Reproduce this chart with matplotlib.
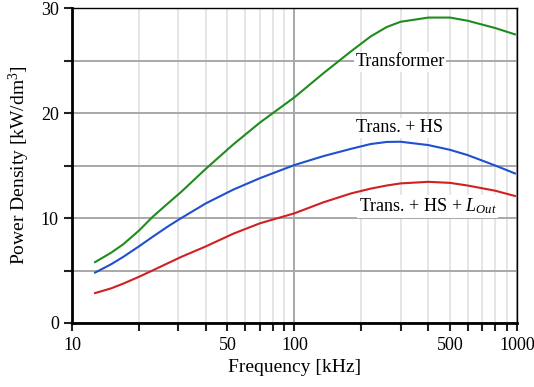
import matplotlib.pyplot as plt
from matplotlib.ticker import FixedLocator, FixedFormatter

plt.rcParams['font.family'] = ['Liberation Serif', 'DejaVu Serif']
plt.rcParams['mathtext.fontset'] = 'custom'
plt.rcParams['mathtext.rm'] = 'Liberation Serif'
plt.rcParams['mathtext.it'] = 'Liberation Serif:italic'

# switching frequency [kHz]
freq = [12.7, 15, 17, 20, 23, 27, 31, 40, 53, 70, 100, 135, 180, 220, 260, 300, 400, 500, 600, 800, 980]
# power density [kW/dm^3]
transformer = [5.8, 6.7, 7.5, 8.8, 10.1, 11.4, 12.5, 14.7, 17.0, 19.1, 21.5, 23.8, 25.9, 27.3, 28.2, 28.7, 29.1, 29.1, 28.8, 28.1, 27.5]
trans_hs = [4.8, 5.6, 6.3, 7.3, 8.2, 9.2, 10.0, 11.4, 12.7, 13.8, 15.05, 15.9, 16.6, 17.05, 17.25, 17.27, 16.95, 16.5, 16.0, 15.0, 14.25]
trans_hs_lout = [2.85, 3.3, 3.75, 4.4, 5.0, 5.7, 6.3, 7.3, 8.5, 9.5, 10.45, 11.5, 12.35, 12.8, 13.1, 13.3, 13.45, 13.35, 13.1, 12.6, 12.1]

xticks_major = [10, 100, 1000]
xticks_minor = [20, 30, 40, 50, 60, 70, 80, 90, 200, 300, 400, 500, 600, 700, 800, 900]

fig = plt.figure(figsize=(5.34, 3.87), dpi=100)
ax = fig.add_axes([0.1348, 0.1654, 0.968 - 0.1348, 0.979 - 0.1654])

ax.plot(freq, transformer, color='#1e8c1e', lw=1.5)
ax.plot(freq, trans_hs, color='#2050d0', lw=1.5)
ax.plot(freq, trans_hs_lout, color='#d02020', lw=1.5)

ax.set_xscale('log')
ax.set_xlim(10, 1000)
ax.set_ylim(0, 30)

ax.xaxis.set_major_locator(FixedLocator(xticks_major))
ax.xaxis.set_major_formatter(FixedFormatter(['10', '100', '1000']))
ax.xaxis.set_minor_locator(FixedLocator(xticks_minor))
ax.xaxis.set_minor_formatter(FixedFormatter([str(t) if t in (50, 500) else '' for t in xticks_minor]))
ax.set_yticks([0, 10, 20, 30])
ax.set_yticks([5, 15, 25], minor=True)

ax.grid(which='major', axis='x', color='#9a9a9a', lw=1.2)
ax.grid(which='minor', axis='x', color='#e2e2e2', lw=1.2)
ax.grid(which='both', axis='y', color='#a8a8a8', lw=1.4)
ax.set_axisbelow(True)

ax.tick_params(which='both', direction='out', length=6, width=1.5, labelsize=13, color='#222222')
ax.tick_params(axis='x', which='both', pad=4)

for side in ['left', 'bottom']:
    ax.spines[side].set_linewidth(2)
for side in ['top', 'right']:
    ax.spines[side].set_linewidth(1)

ax.set_xlabel('Frequency [kHz]', fontsize=14, labelpad=4)
ax.set_ylabel('Power Density [kW/dm$^3$]', fontsize=14, labelpad=6)

box = dict(facecolor='white', edgecolor='none', pad=1)
ax.text(298, 24.9, 'Transformer', fontsize=13, ha='center', va='center', bbox=box)
ax.text(298, 18.6, 'Trans. + HS', fontsize=13, ha='center', va='center', bbox=box)
ax.text(398, 11.1, 'Trans. + HS + $L_{Out}$', fontsize=13, ha='center', va='center', bbox=box)

fig.savefig('out.png', dpi=100)
